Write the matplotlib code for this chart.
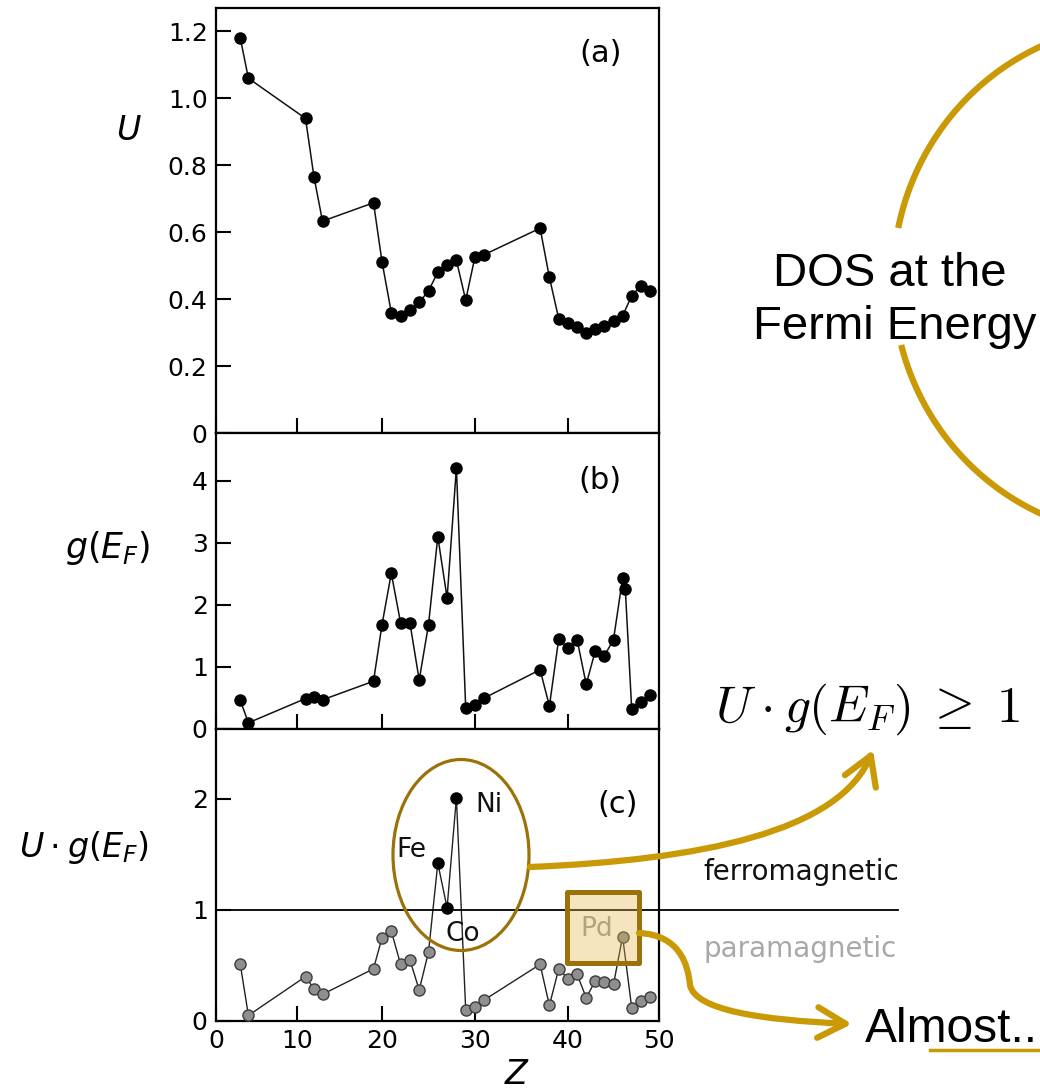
import numpy as np
import matplotlib
matplotlib.use("Agg")
import matplotlib.pyplot as plt
import matplotlib.transforms as mtransforms
from matplotlib.patches import Ellipse, Rectangle, FancyArrowPatch, ArrowStyle
from matplotlib.path import Path

plt.rcParams['font.family'] = ['DejaVu Sans']
plt.rcParams['mathtext.fontset'] = 'dejavusans'

# ---------------- data ----------------
# panel (a): U
Z_u = [3, 4, 11, 12, 13, 19, 20, 21, 22, 23, 24, 25, 26, 27, 28, 29, 30, 31,
       37, 38, 39, 40, 41, 42, 43, 44, 45, 46, 47, 48, 49]
U = [1.18, 1.06, 0.94, 0.765, 0.633, 0.688, 0.512, 0.36, 0.35, 0.367, 0.39, 0.425,
     0.48, 0.503, 0.516, 0.397, 0.527, 0.533, 0.612, 0.465, 0.342, 0.33, 0.317,
     0.30, 0.31, 0.32, 0.335, 0.35, 0.41, 0.44, 0.423]

# panel (b): g(E_F)  (Pd has two entries)
Z_g = [3, 4, 11, 12, 13, 19, 20, 21, 22, 23, 24, 25, 26, 27, 28, 29, 30, 31,
       37, 38, 39, 40, 41, 42, 43, 44, 45, 46, 46.3, 47, 48, 49]
G = [0.46, 0.10, 0.49, 0.515, 0.47, 0.77, 1.68, 2.51, 1.71, 1.71, 0.79, 1.68,
     3.10, 2.11, 4.21, 0.34, 0.38, 0.50, 0.955, 0.37, 1.45, 1.30, 1.44, 0.72,
     1.26, 1.18, 1.44, 2.43, 2.25, 0.32, 0.43, 0.54]

# panel (c): U*g(E_F)
Z_ug = Z_u
UG = [0.51, 0.05, 0.40, 0.29, 0.24, 0.47, 0.75, 0.81, 0.51, 0.55, 0.28, 0.62,
      1.42, 1.02, 2.01, 0.10, 0.13, 0.19, 0.51, 0.14, 0.47, 0.38, 0.42, 0.21,
      0.36, 0.35, 0.33, 0.76, 0.12, 0.18, 0.22]
ferro_Z = [26, 27, 28]
ferro_names = ['Fe', 'Co', 'Ni']

x_ticks = [0, 10, 20, 30, 40, 50]
x_ticklabels = ['0', '10', '20', '30', '40', '50']
ya_ticks = [0, 0.2, 0.4, 0.6, 0.8, 1.0, 1.2]
ya_labels = ['0', '0.2', '0.4', '0.6', '0.8', '1.0', '1.2']
yb_ticks = [0, 1, 2, 3, 4]
yc_ticks = [0, 1, 2]

# slightly non-uniform horizontal axis of the reference drawing
ZK = [0, 10, 20, 30, 40, 50]
PK = [0, 81, 166, 259, 352, 443]

GOLD = '#C99A06'
OLIVE = '#9A7209'

W, H = 1040, 1089
fig = plt.figure(figsize=(W / 100, H / 100), dpi=100)


def box(l, t, r, b):
    return [l / W, 1 - b / H, (r - l) / W, (b - t) / H]


ax_a = fig.add_axes(box(216, 8, 659, 433))
ax_b = fig.add_axes(box(216, 433, 659, 729))
ax_c = fig.add_axes(box(216, 729, 659, 1021))


def fwd(z):
    return np.interp(z, ZK, PK)


def inv(p):
    return np.interp(p, PK, ZK)


for ax in (ax_a, ax_b, ax_c):
    ax.set_xscale('function', functions=(fwd, inv))
    ax.set_xlim(0, 50)
    ax.set_xticks(x_ticks)
    ax.set_xticklabels(x_ticklabels)
    for s in ax.spines.values():
        s.set_linewidth(1.6)
    ax.tick_params(direction='in', length=11, width=1.5, labelsize=18, pad=6,
                   top=False, right=False, colors='black')
    ax.minorticks_off()

ax_a.tick_params(labelbottom=False)
ax_b.tick_params(labelbottom=False)

ax_a.set_ylim(0, 1.27)
ax_a.set_yticks(ya_ticks)
ax_a.set_yticklabels(ya_labels)
ax_b.set_ylim(0, 4.77)
ax_b.set_yticks(yb_ticks)
ax_c.set_ylim(0, 2.63)
ax_c.set_yticks(yc_ticks)

ms = 8
ax_a.plot(Z_u, U, '-', color='#111111', lw=1.1, marker='o', ms=ms,
          mfc='black', mec='black')
ax_b.plot(Z_g, G, '-', color='#111111', lw=1.1, marker='o', ms=ms,
          mfc='black', mec='black')

ax_c.plot(Z_ug, UG, '-', color='#222222', lw=1.0, zorder=2)
gz = [z for z in Z_ug if z not in ferro_Z]
gv = [v for z, v in zip(Z_ug, UG) if z not in ferro_Z]
fz = [z for z in Z_ug if z in ferro_Z]
fv = [v for z, v in zip(Z_ug, UG) if z in ferro_Z]
ax_c.plot(gz, gv, 'o', ms=ms, mfc='#8f8f8f', mec='#3c3c3c', mew=1.0, zorder=3)
ax_c.plot(fz, fv, 'o', ms=ms, mfc='black', mec='black', zorder=3)

# threshold line U*g = 1 extending to the right of the panel
trans = mtransforms.blended_transform_factory(ax_c.transAxes, ax_c.transData)
ax_c.plot([0, 1.54], [1, 1], color='black', lw=1.3, transform=trans,
          clip_on=False, zorder=2)

# element labels
offs = {'Fe': ((-8, 12), 'right'), 'Co': ((11, -17), 'center'), 'Ni': ((14, -3), 'left')}
for z, v, name in zip(fz, fv, ferro_names):
    (dx, dy), ha = offs[name]
    ax_c.annotate(name, xy=(z, v), xytext=(dx, dy), textcoords='offset points',
                  ha=ha, va='center_baseline', fontsize=19, color='#111111')
pd_val = UG[Z_ug.index(46)]
ax_c.annotate('Pd', xy=(46, pd_val), xytext=(-19, 8), textcoords='offset points',
              ha='center', va='center_baseline', fontsize=19, color='#9a9a9a')

# panel letters
ax_a.text(0.869, 0.892, '(a)', transform=ax_a.transAxes, ha='center', va='center', fontsize=22)
ax_b.text(0.867, 0.841, '(b)', transform=ax_b.transAxes, ha='center', va='center', fontsize=22)
ax_c.text(0.907, 0.74, '(c)', transform=ax_c.transAxes, ha='center', va='center', fontsize=22)

# ---------------- overlay in pixel coordinates ----------------
ov = fig.add_axes([0, 0, 1, 1], zorder=10)
ov.set_xlim(0, W)
ov.set_ylim(H, 0)
ov.axis('off')
ov.patch.set_alpha(0)

# axis labels
ov.text(129, 130, '$U$', fontsize=24, ha='center', va='center')
ov.text(108, 548, '$g(E_F)$', fontsize=25, ha='center', va='center')
ov.text(84, 848, r'$U\cdot g(E_F)$', fontsize=24, ha='center', va='center')
ov.text(517, 1074, '$Z$', fontsize=24, ha='center', va='center')

# ellipse around Fe/Co/Ni
ov.add_patch(Ellipse((461, 855), 136, 191, fill=False, ec=OLIVE, lw=2.3))
# Pd box
ov.add_patch(Rectangle((567, 892), 72, 71, fc=(0.886, 0.718, 0.27, 0.35),
                       ec=OLIVE, lw=3.6, joinstyle='round'))

# arrow from ellipse to criterion
p1 = Path([(530, 867), (700, 860), (840, 832), (873, 750)],
          [Path.MOVETO, Path.CURVE4, Path.CURVE4, Path.CURVE4])
ov.add_patch(FancyArrowPatch(path=p1, arrowstyle=ArrowStyle('->', head_length=20, head_width=12),
                             mutation_scale=1, lw=4.5, color=GOLD, capstyle='round',
                             joinstyle='round'))
# arrow from Pd box to "Almost.."
p2 = Path([(639, 933), (680, 935), (688, 965), (690, 985),
           (695, 1010), (760, 1020), (852, 1024)],
          [Path.MOVETO, Path.CURVE4, Path.CURVE4, Path.CURVE4,
           Path.CURVE4, Path.CURVE4, Path.CURVE4])
ov.add_patch(FancyArrowPatch(path=p2, arrowstyle=ArrowStyle('->', head_length=20, head_width=11),
                             mutation_scale=1, lw=4.5, color=GOLD, capstyle='round',
                             joinstyle='round'))

# big arc around "DOS at the Fermi Energy" (gap left for the text)
cx, cy, ea, eb = 1143, 280, 250, 256
t_upper = np.linspace(np.pi - np.arcsin(52 / eb), np.pi - 1.4, 100)
t_lower = np.linspace(np.pi + np.arcsin(65 / eb), np.pi + 1.4, 100)
for t in (t_upper, t_lower):
    ov.plot(cx + ea * np.cos(t), cy - eb * np.sin(t), color=GOLD, lw=4.5,
            solid_capstyle='butt')

# right-side texts
ov.text(890, 286, 'DOS at the', fontsize=34, family='Liberation Sans',
        ha='center', va='baseline')
ov.text(895, 339, 'Fermi Energy', fontsize=34, family='Liberation Sans',
        ha='center', va='baseline')
ov.text(715, 722, r'$U\:\cdot\:g(E_F)\;\geq\;1$', fontsize=37, math_fontfamily='cm',
        ha='left', va='baseline')
ov.text(703, 880, 'ferromagnetic', fontsize=20, ha='left', va='baseline', color='#111111')
ov.text(703, 957, 'paramagnetic', fontsize=20, ha='left', va='baseline', color='#a8a8a8')
ov.text(865, 1042, 'Almost..', fontsize=34.5, family='Liberation Sans',
        ha='left', va='baseline')
ov.plot([930, 1040], [1050, 1050], color=GOLD, lw=2.5)

fig.savefig('out.png', dpi=100)
